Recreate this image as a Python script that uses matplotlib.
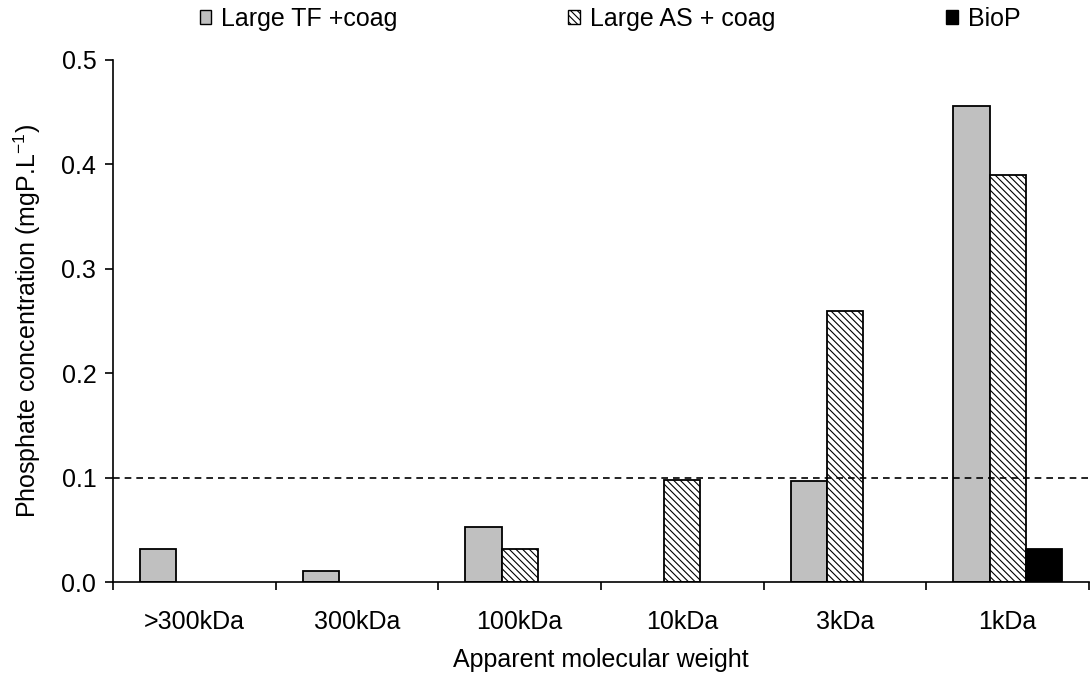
import numpy as np
import matplotlib.pyplot as plt
from matplotlib.patches import Patch

plt.rcParams['font.family'] = ['Liberation Sans', 'DejaVu Sans']
plt.rcParams['mathtext.default'] = 'regular'
plt.rcParams['hatch.linewidth'] = 0.8

categories = [">300kDa", "300kDa", "100kDa", "10kDa", "3kDa", "1kDa"]
large_tf = [0.032, 0.011, 0.053, 0.0, 0.097, 0.456]
large_as = [0.0, 0.0, 0.032, 0.098, 0.260, 0.390]
biop = [0.0, 0.0, 0.0, 0.0, 0.0, 0.032]
limit = 0.1

fig = plt.figure(figsize=(10.91, 6.79), dpi=100)
ax = fig.add_axes([113 / 1091, 1 - 582 / 679, (1089 - 113) / 1091, (582 - 60) / 679])

x = np.arange(len(categories))
w = 0.222

def draw(vals, offset, **kw):
    for xi, v in zip(x, vals):
        if v > 0:
            ax.bar(xi + offset, v, w, edgecolor='black', linewidth=1.3, **kw)

draw(large_tf, -w, color='#c0c0c0')
draw(large_as, 0, color='white', hatch='\\\\\\\\\\')
draw(biop, w, color='black')

# detection limit
ax.axhline(limit, color='black', linestyle=(0, (4, 3)), linewidth=1.2)

ax.set_xlim(-0.5, len(categories) - 0.5)
ax.set_ylim(0, 0.5)
ax.set_yticks(np.arange(0, 0.51, 0.1))
ax.set_yticklabels([f"{t:.1f}" for t in np.arange(0, 0.51, 0.1)])
ax.set_xticks(x)
ax.set_xticklabels(categories)
ax.set_xticks(np.arange(-0.5, len(categories), 1), minor=True)
ax.tick_params(axis='x', which='major', length=0, pad=20, labelsize=18)
ax.tick_params(axis='x', which='minor', length=6, width=1.2, direction='out')
ax.tick_params(axis='y', length=6, width=1.2, labelsize=18, pad=6)

for s in ['top', 'right']:
    ax.spines[s].set_visible(False)
for s in ['left', 'bottom']:
    ax.spines[s].set_linewidth(1.2)

ax.set_xlabel("Apparent molecular weight", fontsize=18, labelpad=10)
ax.set_ylabel("Phosphate concentration (mgP.L$^{-1}$)", fontsize=18, labelpad=13)

handles = [
    Patch(facecolor='#c0c0c0', edgecolor='black', label="Large TF +coag"),
    Patch(facecolor='white', edgecolor='black', hatch='\\\\\\\\\\', label="Large AS + coag"),
    Patch(facecolor='black', edgecolor='black', label="BioP"),
]
fig.legend(handles=handles, loc='upper left', bbox_to_anchor=(182 / 1091, 1.016), ncol=3,
           frameon=False, fontsize=18, handlelength=0.46, handleheight=0.46,
           handletextpad=0.4, columnspacing=6.84, borderpad=0.2)

fig.savefig("out.png", dpi=100)
